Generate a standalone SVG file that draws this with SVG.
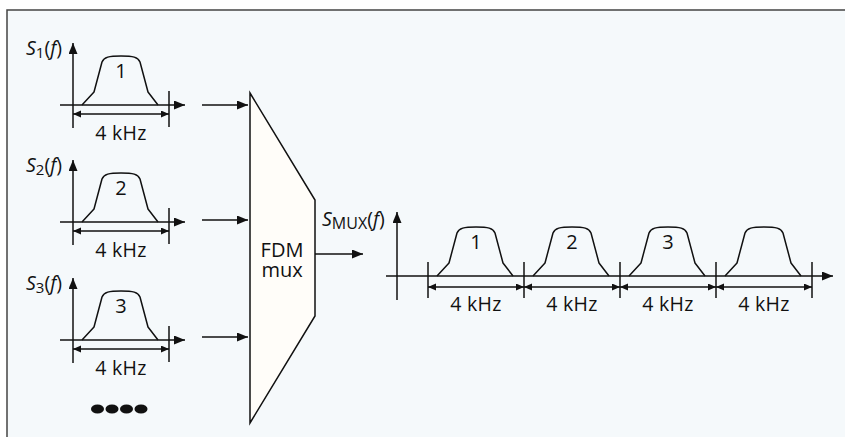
<svg xmlns="http://www.w3.org/2000/svg" xmlns:xlink="http://www.w3.org/1999/xlink" width="845" height="437" viewBox="0 0 845 437">
<style>
  .ln{stroke:#111;stroke-width:1.5;fill:none}
  .ax{stroke:#111;stroke-width:1.5;fill:none;marker-end:url(#ah)}
  .dim{stroke:#111;stroke-width:1.5;fill:none;marker-start:url(#dh);marker-end:url(#dh)}
  .sp{stroke:#111;stroke-width:1.5;fill:none;stroke-linejoin:round}
  text{font-family:"Open Sans","Liberation Sans",sans-serif;fill:#111}
  .t{font-size:19.5px;text-anchor:middle;letter-spacing:0.3px}
  .n{font-size:20px;text-anchor:middle}
  .lb{font-size:19.5px}
  .it{font-style:italic}
</style>
<defs>
  <marker id="ah" markerUnits="userSpaceOnUse" markerWidth="12" markerHeight="10" refX="11" refY="4.5" orient="auto">
    <path d="M0,0 L11,4.5 L0,9 z" fill="#111"/>
  </marker>
  <marker id="dh" markerUnits="userSpaceOnUse" markerWidth="9" markerHeight="8" refX="8" refY="3.5" orient="auto-start-reverse">
    <path d="M0,0 L8,3.5 L0,7 z" fill="#111"/>
  </marker>
  <path id="spec" class="sp" d="M9,0 L21,-13 L29,-43 C31,-48 36,-49 48,-49 C60,-49 65,-48 67,-43 L75,-13 L85,0"/>
</defs>
<rect x="0" y="0" width="845" height="437" fill="#ffffff"/>
<rect x="7" y="10" width="838" height="427" fill="#f5f9fb"/>
<path d="M7,437 L7,10 L845,10" stroke="#444" stroke-width="1.5" fill="none"/>

<g id="panel1">
  <line class="ax" x1="73" y1="128" x2="73" y2="43"/>
  <line class="ax" x1="60" y1="105" x2="185" y2="105"/>
  <line class="ln" x1="169" y1="91" x2="169" y2="127"/>
  <line class="dim" x1="73" y1="114" x2="169" y2="114"/>
  <use xlink:href="#spec" x="73" y="105"/>
  <text class="n" x="121" y="78">1</text>
  <text class="t" x="121" y="140">4 kHz</text>
  <text class="lb" x="26" y="55"><tspan class="it">S</tspan><tspan font-size="15" dy="3">1</tspan><tspan dy="-3">(</tspan><tspan class="it">f</tspan>)</text>
</g>

<g id="panel2">
  <line class="ax" x1="73" y1="245" x2="73" y2="160"/>
  <line class="ax" x1="60" y1="222" x2="185" y2="222"/>
  <line class="ln" x1="169" y1="208" x2="169" y2="244"/>
  <line class="dim" x1="73" y1="231" x2="169" y2="231"/>
  <use xlink:href="#spec" x="73" y="222"/>
  <text class="n" x="121" y="195">2</text>
  <text class="t" x="121" y="257">4 kHz</text>
  <text class="lb" x="26" y="172"><tspan class="it">S</tspan><tspan font-size="15" dy="3">2</tspan><tspan dy="-3">(</tspan><tspan class="it">f</tspan>)</text>
</g>

<g id="panel3">
  <line class="ax" x1="73" y1="363" x2="73" y2="278"/>
  <line class="ax" x1="60" y1="340" x2="185" y2="340"/>
  <line class="ln" x1="169" y1="326" x2="169" y2="362"/>
  <line class="dim" x1="73" y1="349" x2="169" y2="349"/>
  <use xlink:href="#spec" x="73" y="340"/>
  <text class="n" x="121" y="313">3</text>
  <text class="t" x="121" y="375">4 kHz</text>
  <text class="lb" x="26" y="290"><tspan class="it">S</tspan><tspan font-size="15" dy="3">3</tspan><tspan dy="-3">(</tspan><tspan class="it">f</tspan>)</text>
</g>

<g id="dots" fill="#111">
  <ellipse cx="97.5" cy="409" rx="6.5" ry="4.5"/>
  <ellipse cx="112" cy="409" rx="6.5" ry="4.5"/>
  <ellipse cx="126.5" cy="409" rx="6.5" ry="4.5"/>
  <ellipse cx="141" cy="409" rx="6.5" ry="4.5"/>
</g>

<g id="mux">
  <polygon points="250,93 315,200 315,316 250,423" fill="#fffdf9" stroke="#111" stroke-width="1.5" stroke-linejoin="miter"/>
  <text class="n" x="282" y="257">FDM</text>
  <text class="n" x="282" y="277">mux</text>
</g>

<g id="connectors">
  <line class="ax" x1="202" y1="105" x2="248" y2="105"/>
  <line class="ax" x1="202" y1="220" x2="248" y2="220"/>
  <line class="ax" x1="202" y1="337" x2="248" y2="337"/>
  <line class="ax" x1="315" y1="254" x2="363" y2="254"/>
</g>

<g id="muxpanel">
  <line class="ax" x1="397" y1="300" x2="397" y2="212"/>
  <line class="ax" x1="386" y1="276" x2="833" y2="276"/>
  <line class="ln" x1="428" y1="262" x2="428" y2="298"/>
  <line class="ln" x1="524" y1="262" x2="524" y2="298"/>
  <line class="ln" x1="620" y1="262" x2="620" y2="298"/>
  <line class="ln" x1="716" y1="262" x2="716" y2="298"/>
  <line class="ln" x1="812" y1="262" x2="812" y2="298"/>
  <line class="dim" x1="428" y1="287" x2="524" y2="287"/>
  <line class="dim" x1="524" y1="287" x2="620" y2="287"/>
  <line class="dim" x1="620" y1="287" x2="716" y2="287"/>
  <line class="dim" x1="716" y1="287" x2="812" y2="287"/>
  <use xlink:href="#spec" x="428" y="276"/>
  <use xlink:href="#spec" x="524" y="276"/>
  <use xlink:href="#spec" x="620" y="276"/>
  <use xlink:href="#spec" x="716" y="276"/>
  <text class="n" x="476" y="249">1</text>
  <text class="n" x="572" y="249">2</text>
  <text class="n" x="668" y="249">3</text>
  <text class="t" x="476" y="311">4 kHz</text>
  <text class="t" x="572" y="311">4 kHz</text>
  <text class="t" x="668" y="311">4 kHz</text>
  <text class="t" x="764" y="311">4 kHz</text>
  <text class="lb" x="322" y="226"><tspan class="it">S</tspan><tspan font-size="16" dy="3">MUX</tspan><tspan dy="-3">(</tspan><tspan class="it">f</tspan>)</text>
</g>
</svg>
